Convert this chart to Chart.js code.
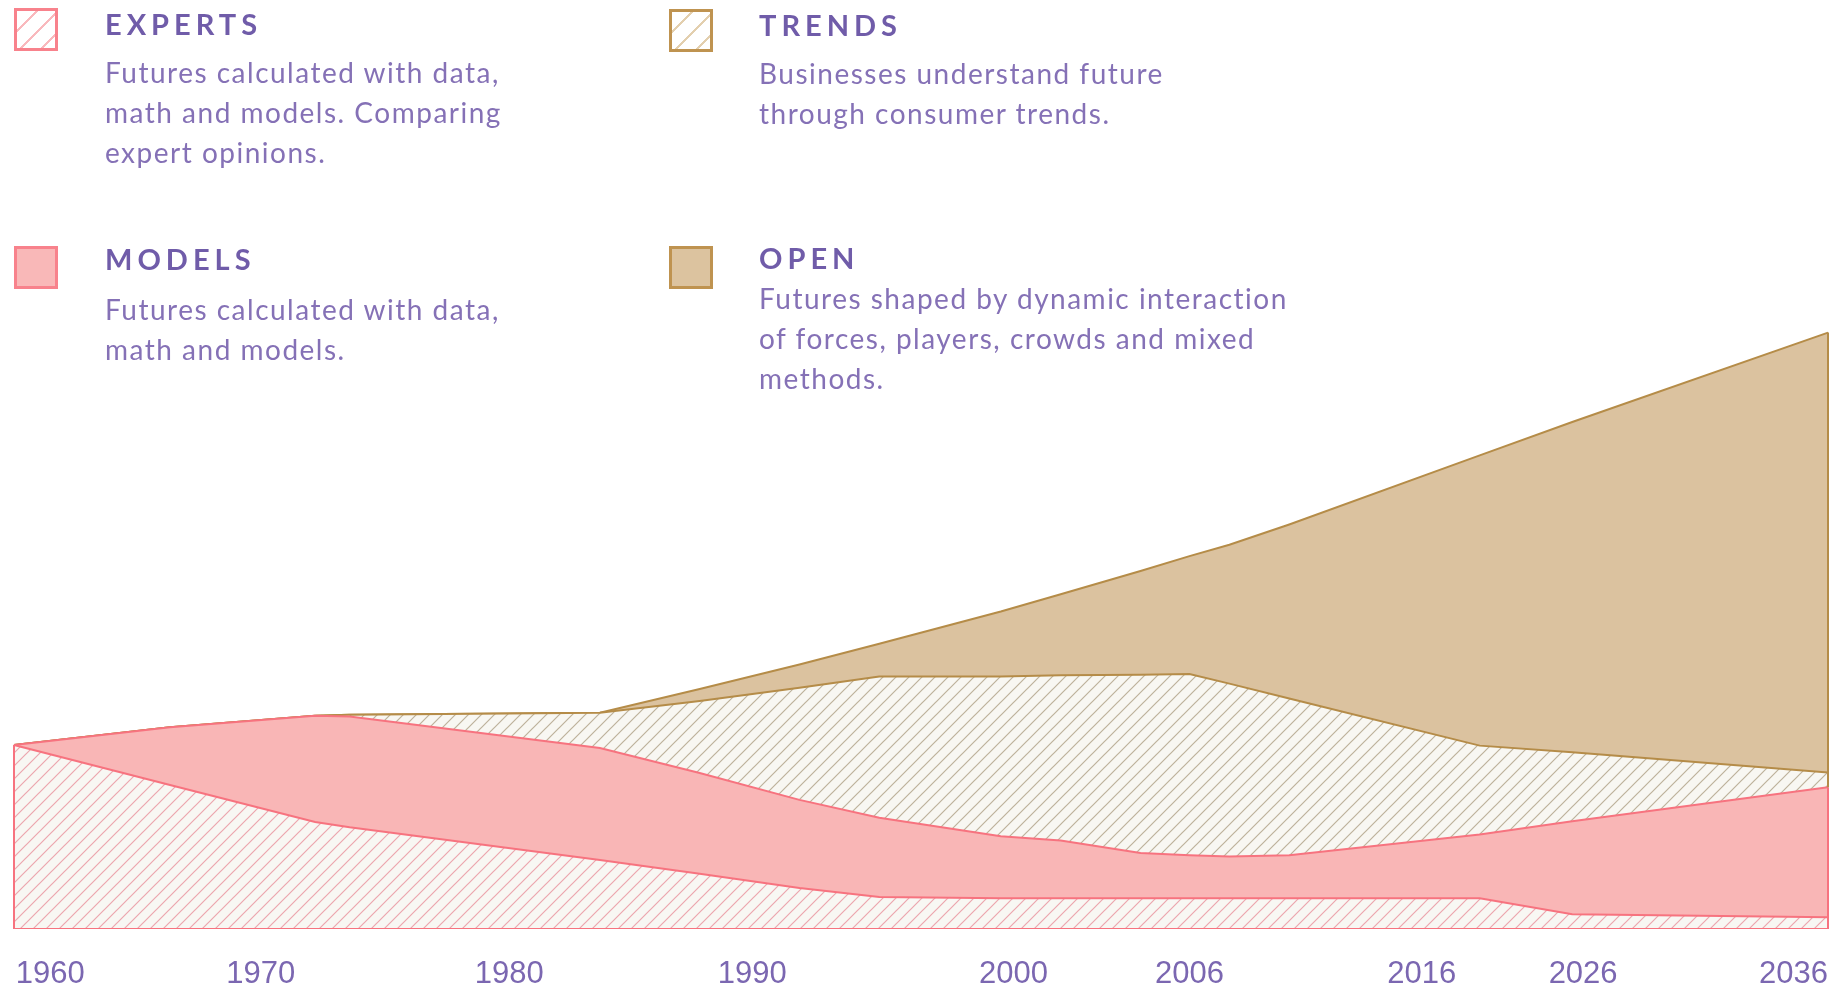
<!DOCTYPE html>
<html lang="en">
<head>
    <meta charset="UTF-8">
    <title>Futures timeline</title>
    <style>
        body { margin: 0; background: #fff; font-family: Lato, "Open Sans", sans-serif; }
        .page { position: relative; width: 1837px; height: 986px; overflow: hidden; }
        canvas { position: absolute; left: 0; top: 0; }
        .swatch { position: absolute; width: 38px; height: 37px; border: 3px solid; }
        .title { position: absolute; font-size: 29px; font-weight: 700; letter-spacing: 5px; line-height: 29px; color: #705ca9; }
        .desc { position: absolute; font-size: 28px; letter-spacing: 1.5px; line-height: 40px; color: #8571b6; white-space: nowrap; }
    </style>
</head>
<body>
<div class="page">
    <canvas id="chart" width="1837" height="986"></canvas>

    <div class="swatch" style="left:14px;top:8px;border-color:#f8828c;background:repeating-linear-gradient(135deg,#fff 0 13px,#f9b9bd 13px 15px);"></div>
    <div class="title" style="left:105px;top:9px;">EXPERTS</div>
    <div class="desc" style="left:105px;top:52px;">Futures calculated with data,<br>math and models. Comparing<br>expert opinions.</div>

    <div class="swatch" style="left:669px;top:9px;border-color:#bf9350;background:repeating-linear-gradient(135deg,#fff 0 13px,#e3cfae 13px 15px);"></div>
    <div class="title" style="left:759px;top:10px;">TRENDS</div>
    <div class="desc" style="left:759px;top:53px;">Businesses understand future<br>through consumer trends.</div>

    <div class="swatch" style="left:14px;top:246px;border-color:#f8828c;background:#f9b8b8;"></div>
    <div class="title" style="left:105px;top:244px;">MODELS</div>
    <div class="desc" style="left:105px;top:289px;">Futures calculated with data,<br>math and models.</div>

    <div class="swatch" style="left:669px;top:246px;border-color:#bf9350;background:#dcc39f;"></div>
    <div class="title" style="left:759px;top:243px;">OPEN</div>
    <div class="desc" style="left:759px;top:278px;">Futures shaped by dynamic interaction<br>of forces, players, crowds and mixed<br>methods.</div>
</div>

<script src="https://cdn.jsdelivr.net/npm/chart.js"></script>
<script>
    // timeline position (0 = start, 100 = end), the axis is not to scale in years
    const timeline = [0, 8.6, 16.6, 18.5, 32.3, 37.8, 43.3, 47.7, 54.4, 57.7, 62.1, 64.8, 67.0, 70.3, 80.8, 85.9, 100];
    const experts  = [30.7, 24.0, 17.8, 16.9, 11.4, 9.1, 6.7, 5.2, 5.0, 5.0, 5.0, 5.0, 5.0, 5.0, 5.0, 2.3, 1.8];
    const models   = [0, 9.7, 17.8, 18.6, 18.8, 16.9, 14.8, 13.3, 10.4, 9.7, 7.6, 7.2, 7.0, 7.2, 10.7, 15.6, 21.8];
    const trends   = [0, 0, 0, 0.3, 5.9, 12.1, 18.8, 23.7, 26.8, 27.7, 29.9, 30.4, 29.0, 26.3, 14.9, 11.6, 2.5];
    const open     = [0, 0, 0, 0, 0, 2.0, 3.9, 5.5, 10.9, 13.6, 17.4, 19.8, 23.3, 29.2, 48.7, 55.4, 73.8];

    const tickYears = ['1960', '1970', '1980', '1990', '2000', '2006', '2016', '2026', '2036'];
    const tickPos   = [2.0, 13.6, 27.3, 40.7, 55.1, 64.8, 77.6, 86.5, 98.1];

    const PINK = '#f7737f';
    const TAN = '#b58c48';

    const ctx = document.getElementById('chart').getContext('2d');

    function hatch(bg, line) {
        const s = 13;
        const c = document.createElement('canvas');
        c.width = s; c.height = s;
        const g = c.getContext('2d');
        g.fillStyle = bg;
        g.fillRect(0, 0, s, s);
        g.strokeStyle = line;
        g.lineWidth = 1.2;
        g.beginPath();
        g.moveTo(-1, s + 1); g.lineTo(s + 1, -1);
        g.moveTo(-3, 3); g.lineTo(3, -3);
        g.moveTo(s - 3, s + 3); g.lineTo(s + 3, s - 3);
        g.stroke();
        return ctx.createPattern(c, 'repeat');
    }

    const pts = arr => arr.map((v, i) => ({ x: timeline[i], y: v }));

    // closes the left and right ends of the stacked areas
    const edges = {
        id: 'edges',
        afterDatasetsDraw(chart) {
            const xs = chart.scales.x, ys = chart.scales.y;
            const c = chart.ctx;
            [0, timeline.length - 1].forEach(i => {
                const x = xs.getPixelForValue(timeline[i]);
                const low = experts[i] + models[i];
                const top = low + trends[i] + open[i];
                c.save();
                c.lineWidth = 2;
                c.strokeStyle = PINK;
                c.beginPath();
                c.moveTo(x, ys.getPixelForValue(0));
                c.lineTo(x, ys.getPixelForValue(low));
                c.stroke();
                if (top > low) {
                    c.strokeStyle = TAN;
                    c.beginPath();
                    c.moveTo(x, ys.getPixelForValue(low));
                    c.lineTo(x, ys.getPixelForValue(top));
                    c.stroke();
                }
                c.restore();
            });
        }
    };

    new Chart(ctx, {
        type: 'line',
        data: {
            datasets: [
                { label: 'EXPERTS', data: pts(experts), fill: 'origin', backgroundColor: hatch('#f8f7f3', '#eca6ae'), borderColor: PINK },
                { label: 'MODELS', data: pts(models), fill: '-1', backgroundColor: '#f9b6b6', borderColor: PINK },
                { label: 'TRENDS', data: pts(trends), fill: '-1', backgroundColor: hatch('#f8f7f2', '#bdb29b'), borderColor: TAN },
                { label: 'OPEN', data: pts(open), fill: '-1', backgroundColor: '#dbc29f', borderColor: TAN }
            ]
        },
        options: {
            responsive: false,
            animation: false,
            clip: false,
            layout: { padding: { left: 14, right: 9, top: 332, bottom: 0 } },
            elements: {
                point: { radius: 0 },
                line: { borderWidth: 2, tension: 0 }
            },
            plugins: {
                legend: { display: false },
                tooltip: { enabled: false }
            },
            scales: {
                x: {
                    type: 'linear',
                    min: 0,
                    max: 100,
                    grid: { display: false, drawTicks: false },
                    border: { display: true, color: PINK, width: 2 },
                    afterBuildTicks: scale => { scale.ticks = tickPos.map(v => ({ value: v })); },
                    afterFit: scale => {
                        scale.height = 58;
                        scale.paddingLeft = 0;
                        scale.paddingRight = 0;
                    },
                    ticks: {
                        autoSkip: false,
                        maxRotation: 0,
                        padding: 28,
                        color: '#7b67b1',
                        font: { family: '"Liberation Sans", Arial, sans-serif', size: 31 },
                        callback: (value, index) => tickYears[index]
                    }
                },
                y: {
                    display: false,
                    stacked: true,
                    min: 0,
                    max: 100
                }
            }
        },
        plugins: [edges]
    });
</script>
</body>
</html>
